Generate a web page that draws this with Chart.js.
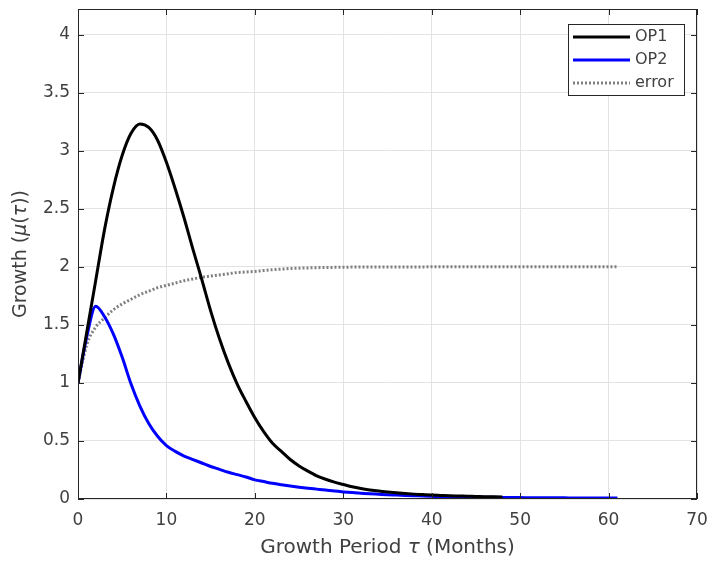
<!DOCTYPE html>
<html lang="en">
<head>
    <meta charset="UTF-8">
    <title>Growth</title>
    <script src="https://cdn.jsdelivr.net/npm/chart.js"></script>
    <style>
        html, body { margin: 0; padding: 0; background: #fff; }
        #wrap { width: 712px; height: 565px; }
    </style>
</head>
<body>
<div id="wrap"><canvas id="myCanvas" width="712" height="565"></canvas></div>

<script>
    // valores (mes -> valor)
    let mesesOP1 = [0,1,2,3,4,5,6,7,8,9,10,11,12,13,14,15,16,17,18,19,20,21,22,23,24,25,26,27,28,29,30,31,32,33,34,35,36,37,38,39,40,41,42,43,44,45,46,47,48];
    let op1 = [1.0,1.44,1.88,2.32,2.68,2.96,3.15,3.23,3.2,3.09,2.9,2.67,2.42,2.15,1.89,1.62,1.38,1.17,0.99,0.84,0.7,0.58,0.48,0.41,0.34,0.285,0.24,0.2,0.17,0.145,0.125,0.105,0.09,0.078,0.068,0.06,0.053,0.047,0.042,0.038,0.034,0.031,0.028,0.026,0.024,0.022,0.02,0.019,0.018];

    let mesesOP2 = [0,1,2,3,4,5,6,7,8,9,10,11,12,13,14,15,16,17,18,19,20,21,22,23,24,25,26,27,28,29,30,31,32,33,34,35,36,37,38,39,40,41,42,43,44,45,46,47,48,49,50,51,52,53,54,55,56,57,58,59,60,61];
    let op2 = [1.0,1.4,1.66,1.57,1.42,1.22,0.99,0.8,0.65,0.54,0.46,0.41,0.37,0.34,0.31,0.28,0.255,0.23,0.21,0.19,0.165,0.15,0.135,0.123,0.112,0.102,0.093,0.085,0.077,0.068,0.061,0.055,0.05,0.045,0.041,0.037,0.034,0.031,0.028,0.025,0.023,0.021,0.02,0.018,0.017,0.016,0.015,0.014,0.013,0.012,0.012,0.011,0.011,0.01,0.01,0.01,0.009,0.009,0.009,0.008,0.008,0.008];

    let mesesErro = mesesOP2;
    let erro = [1.0,1.33,1.48,1.56,1.63,1.68,1.72,1.76,1.79,1.82,1.84,1.86,1.88,1.895,1.91,1.92,1.93,1.94,1.95,1.955,1.96,1.968,1.975,1.98,1.985,1.988,1.99,1.992,1.994,1.995,1.996,1.997,1.997,1.998,1.998,1.998,1.999,1.999,1.999,1.999,2.0,2.0,2.0,2.0,2.0,2.0,2.0,2.0,2.0,2.0,2.0,2.0,2.0,2.0,2.0,2.0,2.0,2.0,2.0,2.0,2.0,2.0];

    let ticksX = [0,10,20,30,40,50,60,70];
    let ticksY = [0,0.5,1,1.5,2,2.5,3,3.5,4];

    let legendas = ["OP1", "OP2", "error"];
    let cores = ["#000000", "#0000ff", "#808080"];

    const fonte = "DejaVu Sans";
    const corTexto = "#404040";

    function pares(xs, ys) {
        return xs.map(function (v, i) { return { x: v, y: ys[i] }; });
    }

    // desenha texto com partes em italico
    function textoMisto(ctx, partes, size) {
        let total = 0;
        partes.forEach(function (p) {
            ctx.font = (p[1] ? "italic " : "") + size + "px '" + fonte + "'";
            total += ctx.measureText(p[0]).width;
        });
        let x = -total / 2;
        partes.forEach(function (p) {
            ctx.font = (p[1] ? "italic " : "") + size + "px '" + fonte + "'";
            ctx.fillText(p[0], x, 0);
            x += ctx.measureText(p[0]).width;
        });
    }

    const moldura = {
        id: "moldura",
        afterDraw(chart) {
            const ctx = chart.ctx;
            const a = chart.chartArea;
            const sx = chart.scales.x, sy = chart.scales.y;
            ctx.save();

            // caixa
            ctx.strokeStyle = "#262626";
            ctx.lineWidth = 1;
            ctx.strokeRect(Math.round(a.left) + 0.5, Math.round(a.top) + 0.5,
                Math.round(a.right - a.left) - 1, Math.round(a.bottom - a.top) - 1);

            // marcas para dentro
            ctx.beginPath();
            ticksX.forEach(function (v) {
                const px = Math.round(sx.getPixelForValue(v)) + 0.5;
                ctx.moveTo(px, a.bottom); ctx.lineTo(px, a.bottom - 6);
                ctx.moveTo(px, a.top); ctx.lineTo(px, a.top + 6);
            });
            ticksY.forEach(function (v) {
                const py = Math.round(sy.getPixelForValue(v)) + 0.5;
                ctx.moveTo(a.left, py); ctx.lineTo(a.left + 6, py);
                ctx.moveTo(a.right, py); ctx.lineTo(a.right - 6, py);
            });
            ctx.stroke();

            // legenda
            const lx = 568, ly = 24, lw = 116, lh = 71;
            ctx.fillStyle = "#ffffff";
            ctx.fillRect(lx, ly, lw, lh);
            ctx.strokeStyle = "#262626";
            ctx.strokeRect(lx + 0.5, ly + 0.5, lw, lh);
            for (let i = 0; i < legendas.length; i++) {
                const yy = ly + 13 + i * 23;
                ctx.beginPath();
                ctx.strokeStyle = cores[i];
                ctx.lineWidth = 3;
                ctx.setLineDash(i == 2 ? [2, 2] : []);
                ctx.moveTo(lx + 5, yy);
                ctx.lineTo(lx + 62, yy);
                ctx.stroke();
                ctx.setLineDash([]);
                ctx.fillStyle = corTexto;
                ctx.font = "16px '" + fonte + "'";
                ctx.textBaseline = "middle";
                ctx.textAlign = "left";
                ctx.fillText(legendas[i], lx + 67, yy);
            }

            // titulos dos eixos
            ctx.fillStyle = corTexto;
            ctx.textBaseline = "middle";
            ctx.textAlign = "left";
            ctx.save();
            ctx.translate((a.left + a.right) / 2, 548);
            textoMisto(ctx, [["Growth Period ", false], ["\u03c4", true], [" (Months)", false]], 20);
            ctx.restore();

            ctx.save();
            ctx.translate(21, (a.top + a.bottom) / 2);
            ctx.rotate(-Math.PI / 2);
            textoMisto(ctx, [["Growth (", false], ["\u03bc", true], ["(", false], ["\u03c4", true], ["))", false]], 19);
            ctx.restore();

            ctx.restore();
        }
    };

    let dados = {
        datasets: [
            {
                label: legendas[0],
                data: pares(mesesOP1, op1),
                borderColor: cores[0],
                borderWidth: 3,
                pointRadius: 0,
                cubicInterpolationMode: "monotone"
            },
            {
                label: legendas[1],
                data: pares(mesesOP2, op2),
                borderColor: cores[1],
                borderWidth: 3,
                pointRadius: 0,
                cubicInterpolationMode: "monotone"
            },
            {
                label: legendas[2],
                data: pares(mesesErro, erro),
                borderColor: cores[2],
                borderWidth: 3,
                borderDash: [2, 2],
                pointRadius: 0,
                cubicInterpolationMode: "monotone"
            }
        ]
    };

    const config = {
        type: "line",
        data: dados,
        options: {
            responsive: false,
            animation: false,
            layout: { padding: { top: 9, right: 15, left: 0, bottom: 0 } },
            scales: {
                x: {
                    type: "linear",
                    min: 0,
                    max: 70,
                    afterBuildTicks: function (s) { s.ticks = ticksX.map(function (v) { return { value: v }; }); },
                    afterFit: function (s) {
                        s.height = 66;
                        s.paddingLeft = 0;
                        s.paddingRight = 0;
                    },
                    grid: { color: "#e3e3e3", drawTicks: false },
                    border: { display: false },
                    ticks: {
                        padding: 11,
                        color: corTexto,
                        font: { family: fonte, size: 17 }
                    }
                },
                y: {
                    min: 0,
                    max: 4.22,
                    afterBuildTicks: function (s) { s.ticks = ticksY.map(function (v) { return { value: v }; }); },
                    afterFit: function (s) {
                        s.width = 78;
                        s.paddingTop = 0;
                        s.paddingBottom = 0;
                    },
                    grid: { color: "#e3e3e3", drawTicks: false },
                    border: { display: false },
                    ticks: {
                        padding: 8,
                        color: corTexto,
                        font: { family: fonte, size: 17 },
                        callback: function (v) { return String(v); }
                    }
                }
            },
            plugins: {
                legend: { display: false },
                title: { display: false },
                tooltip: { enabled: false }
            }
        },
        plugins: [moldura]
    };

    let myChart = new Chart(document.getElementById("myCanvas"), config);
</script>
</body>
</html>
